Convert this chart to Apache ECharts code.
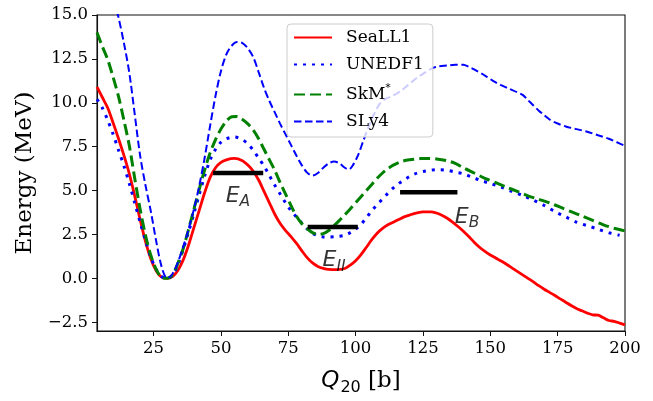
<!DOCTYPE html>
<html><head><meta charset="utf-8">
<script src="https://cdn.jsdelivr.net/npm/echarts@6/dist/echarts.min.js"></script>
<style>html,body{margin:0;padding:0;background:#fff}#c{width:653px;height:401px}</style>
</head><body><div id="c"></div>
<script>
// ---- data (Q20 [b], Energy [MeV]) ----
const seaLL1 = [[4,10.9],[6,10.3],[8,9.7],[10,8.85],[12,7.95],[14,7.0],[16,5.95],[18,4.7],[20,3.35],[22,2.1],[24,1.1],[26,0.42],[28,0.07],[30,0],[32,0.1],[34,0.45],[36,1.05],[38,1.9],[40,2.9],[42,3.9],[44,4.9],[46,5.75],[48,6.3],[50,6.6],[52,6.75],[55,6.83],[58,6.7],[60,6.45],[62,6.1],[64,5.6],[66,4.95],[68,4.3],[70,3.65],[72,3.12],[74,2.72],[76,2.38],[78,2.0],[80,1.58],[82,1.18],[84,0.88],[86,0.68],[88,0.57],[90,0.51],[93,0.5],[96,0.56],[98,0.75],[100,1.0],[102,1.35],[104,1.77],[106,2.2],[108,2.57],[110,2.85],[112,3.05],[114,3.2],[116,3.35],[118,3.5],[120,3.6],[122,3.7],[125,3.78],[128,3.79],[130,3.72],[132,3.6],[134,3.42],[136,3.2],[138,2.95],[140,2.68],[142,2.38],[144,2.06],[146,1.77],[148,1.53],[150,1.33],[152,1.16],[154,0.99],[156,0.8],[158,0.6],[160,0.4],[162,0.2],[164,0.0],[166,-0.2],[168,-0.42],[170,-0.62],[172,-0.8],[174,-0.98],[176,-1.17],[178,-1.36],[180,-1.55],[182,-1.72],[184,-1.85],[186,-1.98],[188,-2.08],[190,-2.1],[192,-2.25],[194,-2.4],[196,-2.45],[198,-2.55],[200,-2.65]];
const unedf1 = [[4,10.2],[6,9.7],[8,9.0],[10,8.2],[12,7.3],[14,6.4],[16,5.4],[18,4.3],[20,3.2],[22,2.15],[24,1.2],[26,0.5],[28,0.1],[30,0],[32,0.15],[34,0.75],[36,1.65],[38,2.65],[40,3.7],[42,4.8],[44,5.85],[46,6.75],[48,7.35],[50,7.75],[52,7.95],[55,8.05],[58,7.9],[60,7.65],[62,7.3],[64,6.85],[66,6.4],[68,5.85],[70,5.3],[72,4.8],[74,4.3],[76,3.85],[78,3.5],[80,3.15],[82,2.82],[84,2.57],[86,2.43],[88,2.36],[90,2.35],[93,2.38],[96,2.45],[98,2.6],[100,2.8],[102,3.07],[104,3.45],[106,3.85],[108,4.2],[110,4.52],[112,4.85],[114,5.15],[116,5.4],[118,5.6],[120,5.8],[122,5.95],[125,6.08],[128,6.16],[131,6.19],[134,6.15],[137,6.05],[140,5.95],[143,5.78],[146,5.6],[150,5.4],[154,5.2],[158,4.95],[162,4.72],[166,4.45],[170,4.15],[174,3.8],[178,3.5],[182,3.2],[186,3.0],[190,2.8],[194,2.6],[198,2.45]];
const skm = [[4,14.0],[6,13.2],[8,12.45],[10,11.45],[12,10.35],[14,9.0],[16,7.55],[18,5.7],[20,3.95],[22,2.45],[24,1.3],[26,0.5],[28,0.05],[30,0],[32,0.2],[34,0.85],[36,1.7],[38,2.8],[40,3.95],[42,5.1],[44,6.2],[46,7.15],[48,7.9],[50,8.5],[52,8.95],[54,9.2],[56,9.22],[58,9.05],[60,8.8],[62,8.45],[64,7.95],[66,7.35],[68,6.75],[70,6.15],[72,5.45],[74,4.8],[76,4.15],[78,3.55],[80,3.12],[82,2.83],[84,2.6],[86,2.5],[88,2.55],[90,2.72],[92,3.0],[94,3.3],[96,3.62],[98,3.95],[100,4.3],[102,4.65],[104,5.0],[106,5.35],[108,5.7],[110,6.0],[112,6.25],[114,6.45],[117,6.65],[120,6.75],[124,6.82],[127,6.83],[130,6.8],[134,6.7],[137,6.55],[140,6.3],[144,6.0],[148,5.7],[152,5.45],[156,5.2],[160,4.95],[164,4.7],[168,4.5],[172,4.3],[176,4.05],[180,3.8],[184,3.55],[188,3.3],[192,3.05],[196,2.85],[200,2.7]];
const sly4 = [[4,19.5],[6,18.3],[8,17.2],[10,16.0],[12,14.85],[14,13.4],[16,11.7],[18,9.35],[20,7.0],[22,5.3],[24,3.8],[26,2.1],[28,0.65],[30,0],[32,0.25],[34,0.9],[36,1.8],[38,2.8],[40,3.95],[42,5.3],[44,6.9],[46,8.7],[48,10.4],[50,11.8],[52,12.75],[54,13.25],[56,13.46],[58,13.4],[60,13.1],[62,12.6],[64,11.75],[66,10.85],[68,10.1],[70,9.45],[72,8.8],[74,8.2],[76,7.6],[78,7.0],[80,6.45],[82,6.02],[84,5.85],[86,6.0],[88,6.3],[90,6.55],[92,6.65],[94,6.55],[96,6.3],[97.5,6.2],[99,6.45],[101,7.05],[103,7.9],[105,8.7],[107,9.4],[109,9.95],[111,10.2],[113,10.35],[115,10.5],[117,10.7],[119,10.95],[121,11.2],[123,11.45],[125,11.65],[127,11.85],[129,12.0],[131,12.08],[134,12.12],[137,12.17],[140,12.17],[142,12.05],[144,11.9],[148,11.55],[151,11.25],[154,11.0],[157,10.8],[160,10.6],[162,10.45],[164,10.15],[166,9.85],[168,9.55],[170,9.3],[172,9.05],[174,8.88],[178,8.65],[182,8.5],[186,8.35],[190,8.15],[194,7.95],[197,7.75],[200,7.55]];
// barrier heights: [Qstart, Qend, E]
const barEA = [47.1, 65.7, 6.0];
const barEII = [82.2, 100.8, 2.93];
const barEB = [116.5, 137.8, 4.9];
const barLabelSubs = ['A', 'II', 'B'];
const barLabelPos = [[56.3, 4.68], [92, 1.0], [141.4, 3.47]];
const seriesNames = ['SeaLL1', 'UNEDF1', 'SkM*', 'SLy4'];
const xTicks = [25, 50, 75, 100, 125, 150, 175, 200];
const yTicks = [-2.5, 0, 2.5, 5, 7.5, 10, 12.5, 15];

const chart = echarts.init(document.getElementById('c'), null, {renderer: 'canvas'});
const serif = 'DejaVu Serif';
function bar(b) { return {type: 'line', data: [[b[0], b[2]], [b[1], b[2]]], symbol: 'none', z: 10, silent: true,
  lineStyle: {color: '#000', width: 4.5, cap: 'butt'}}; }
const curve = (name, data, color, width, type) => ({name, type: 'line', data, symbol: 'none', smooth: 0.3,
  lineStyle: {color, width, type, cap: 'butt'}, itemStyle: {color}});

chart.setOption({
  animation: false,
  grid: {left: 97, right: 28, top: 15, bottom: 61, show: true, borderColor: '#111', borderWidth: 1.1, backgroundColor: 'transparent'},
  xAxis: {type: 'value', min: 4, max: 200,
    axisLine: {onZero: false, lineStyle: {color: '#111', width: 1.1}},
    axisTick: {show: true, length: 5, customValues: xTicks, lineStyle: {color: '#111'}},
    axisLabel: {customValues: xTicks, color: '#000', fontFamily: serif, fontSize: 16.5, margin: 9},
    splitLine: {show: false},
    name: '{q|Q}{s|20}{t| [b]}', nameLocation: 'middle', nameGap: 35,
    nameTextStyle: {rich: {
      q: {fontFamily: 'DejaVu Sans', fontStyle: 'italic', fontSize: 23, color: '#000'},
      s: {fontFamily: 'DejaVu Sans', fontSize: 16, color: '#000', padding: [14, 0, 0, 1]},
      t: {fontFamily: serif, fontSize: 23, color: '#000'}}}},
  yAxis: {type: 'value', min: -3, max: 15,
    axisLine: {onZero: false, lineStyle: {color: '#111', width: 1.1}},
    axisTick: {show: true, length: 5, customValues: yTicks, lineStyle: {color: '#111'}},
    axisLabel: {customValues: yTicks, color: '#000', fontFamily: serif, fontSize: 16.5, margin: 9,
      formatter: v => (v < 0 ? '\u2212' : '') + Math.abs(v).toFixed(1)},
    splitLine: {show: false},
    name: 'Energy (MeV)', nameLocation: 'middle', nameGap: 60,
    nameTextStyle: {fontFamily: serif, fontSize: 23, color: '#000'}},
  legend: {data: seriesNames, orient: 'vertical', left: 287, top: 24,
    padding: [5, 9, 7, 6], itemGap: 10, itemWidth: 38, itemHeight: 14,
    itemStyle: {opacity: 0},
    backgroundColor: 'rgba(255,255,255,0.8)', borderColor: '#cccccc', borderWidth: 1, borderRadius: 4,
    formatter: n => n === 'SkM*' ? '{n|SkM}{sup|*}' : '{n|' + n + '}',
    textStyle: {padding: [0, 0, 0, 9], rich: {
      n: {fontFamily: serif, fontSize: 17, color: '#000', lineHeight: 20},
      sup: {fontFamily: 'DejaVu Sans', fontSize: 11, color: '#000', padding: [0, 0, 12, 0]}}}},
  series: [
    curve(seriesNames[0], seaLL1, '#ff0000', 2.8, 'solid'),
    curve(seriesNames[1], unedf1, '#0000ff', 3, [3, 6]),
    curve(seriesNames[2], skm, '#008000', 3, [11, 5]),
    curve(seriesNames[3], sly4, '#0000ff', 2, [7.5, 3.5]),
    bar(barEA), bar(barEII), bar(barEB),
    {type: 'scatter', data: barLabelPos, symbolSize: 1, itemStyle: {color: 'rgba(0,0,0,0)'}, silent: true, z: 11,
      label: {show: true, position: 'inside',
        formatter: p => '{e|E}{s|' + barLabelSubs[p.dataIndex] + '}',
        rich: {e: {fontFamily: 'DejaVu Sans', fontStyle: 'italic', fontSize: 22, color: '#000'},
               s: {fontFamily: 'DejaVu Sans', fontStyle: 'italic', fontSize: 15.5, color: '#000', padding: [12, 0, 0, 0]}}}}
  ]
});
</script></body></html>
